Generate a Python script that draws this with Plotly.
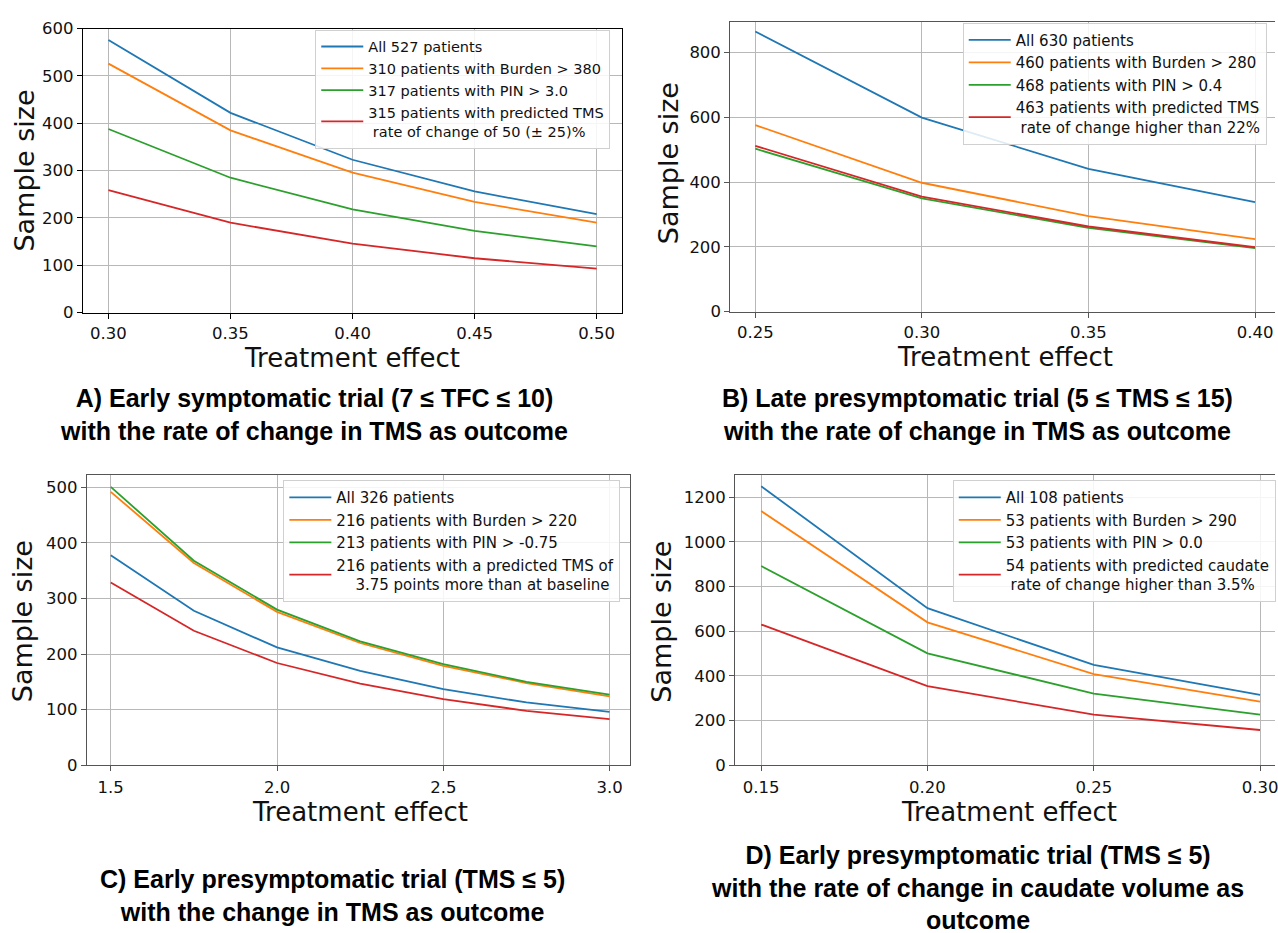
import plotly.graph_objects as go

# ---------------- data ----------------
effect_A = [0.30, 0.35, 0.40, 0.45, 0.50]
all_A = [576, 422, 323, 256, 208]
burden_A = [526, 385, 296, 234, 190]
pin_A = [388, 285, 218, 173, 140]
tms_A = [259, 190, 146, 115, 93]
names_A = ["All 527 patients", "310 patients with Burden > 380", "317 patients with PIN > 3.0",
           "315 patients with predicted TMS<br> rate of change of 50 (± 25)%"]

effect_B = [0.25, 0.30, 0.35, 0.40]
all_B = [865, 599, 441, 338]
burden_B = [576, 398, 295, 224]
pin_B = [503, 350, 259, 196]
tms_B = [512, 355, 263, 199]
names_B = ["All 630 patients", "460 patients with Burden > 280", "468 patients with PIN > 0.4",
           "463 patients with predicted TMS<br> rate of change higher than 22%"]

effect_C = [1.5, 1.75, 2.0, 2.25, 2.5, 2.75, 3.0]
all_C = [378, 278, 212, 170, 137, 113, 96]
burden_C = [492, 364, 276, 220, 179, 148, 124]
pin_C = [501, 368, 280, 223, 182, 150, 127]
tms_C = [329, 242, 184, 147, 119, 98, 83]
names_C = ["All 326 patients", "216 patients with Burden > 220", "213 patients with PIN > -0.75",
           "216 patients with a predicted TMS of<br>    3.75 points more than at baseline"]

effect_D = [0.15, 0.20, 0.25, 0.30]
all_D = [1249, 703, 449, 315]
burden_D = [1138, 640, 408, 285]
pin_D = [892, 501, 321, 227]
tms_D = [630, 354, 227, 158]
names_D = ["All 108 patients", "53 patients with Burden > 290", "53 patients with PIN > 0.0",
           "54 patients with predicted caudate<br> rate of change higher than 3.5%"]

x_ticks_A = [0.30, 0.35, 0.40, 0.45, 0.50]
x_ticks_B = [0.25, 0.30, 0.35, 0.40]
x_ticks_C = [1.5, 2.0, 2.5, 3.0]
x_ticks_D = [0.15, 0.20, 0.25, 0.30]

captions = [
    "A) Early symptomatic trial (7 ≤ TFC ≤ 10)<br>with the rate of change in TMS as outcome",
    "B) Late presymptomatic trial (5 ≤ TMS ≤ 15)<br>with the rate of change in TMS as outcome",
    "C) Early presymptomatic trial (TMS ≤ 5)<br>with the change in TMS as outcome",
    "D) Early presymptomatic trial (TMS ≤ 5)<br>with the rate of change in caudate volume as<br>outcome",
]

COLORS = ["#1f77b4", "#ff7f0e", "#2ca02c", "#d62728"]
W, H = 1278, 933

def px_x(p):
    return p / W

def px_y(p):
    return 1 - p / H

panels = [
    dict(ef=effect_A, ser=[all_A, burden_A, pin_A, tms_A], names=names_A, ticks=x_ticks_A,
         tickfmt=".2f", xr=[0.2895, 0.5102], yr=[0, 600], dtick=100, rspine=True,
         dom=(83, 623, 20, 310), leg=(316, 21), legfont=14.5, spine="#000", xstand=0,
         ytitle=(25, 165), xtitle=(353, 356)),
    dict(ef=effect_B, ser=[all_B, burden_B, pin_B, tms_B], names=names_B, ticks=x_ticks_B,
         tickfmt=".2f", xr=[0.2425, 0.406], yr=[0, 895], dtick=200, rspine=False,
         dom=(732, 1278, 13, 309), leg=(965, 14), legfont=15, spine="#555", xstand=0,
         ytitle=(670, 157), xtitle=(1007, 355)),
    dict(ef=effect_C, ser=[all_C, burden_C, pin_C, tms_C], names=names_C, ticks=x_ticks_C,
         tickfmt=".1f", xr=[1.428, 3.06], yr=[0, 521.7], dtick=100, rspine=True,
         dom=(87, 631, 476, 772), leg=(284, 481), legfont=15, spine="#555", xstand=2,
         ytitle=(22, 625), xtitle=(361, 820)),
    dict(ef=effect_D, ser=[all_D, burden_D, pin_D, tms_D], names=names_D, ticks=x_ticks_D,
         tickfmt=".2f", xr=[0.1422, 0.3045], yr=[0, 1298], dtick=200, rspine=False,
         dom=(737, 1278, 476, 772), leg=(955, 481), legfont=15, spine="#555", xstand=2,
         ytitle=(663, 625), xtitle=(1011, 820)),
]

fig = go.Figure()
annotations = []
layout = {}
for i, p in enumerate(panels):
    k = "" if i == 0 else str(i + 1)
    legname = "legend" + k
    for j, ys in enumerate(p["ser"]):
        fig.add_trace(go.Scatter(
            x=p["ef"], y=ys, mode="lines", name=p["names"][j],
            line=dict(color=COLORS[j], width=1.8),
            xaxis="x" + k, yaxis="y" + k, legend=legname,
        ))
    l, r, t, b = p["dom"]
    axcommon = dict(showline=True, linecolor=p["spine"], linewidth=1.2,
                    showgrid=True, gridcolor="#b8b8b8", gridwidth=1,
                    ticks="outside", ticklen=5, tickcolor=p["spine"], zeroline=False,
                    ticklabeloverflow="allow",
                    tickfont=dict(family="DejaVu Sans", size=16.5, color="#111"))
    layout["xaxis" + k] = dict(domain=[px_x(l), px_x(r)], range=p["xr"], anchor="y" + k,
                               tickvals=p["ticks"], tickformat=p["tickfmt"], mirror=True,
                               ticklabelstandoff=p["xstand"], **axcommon)
    layout["yaxis" + k] = dict(domain=[px_y(b), px_y(t)], range=p["yr"], anchor="x" + k,
                               dtick=p["dtick"], tick0=0, mirror=p["rspine"], **axcommon)
    lx, ly = p["leg"]
    layout[legname] = dict(x=px_x(lx), y=px_y(ly), xanchor="left", yanchor="top",
                           xref="paper", yref="paper",
                           bgcolor="rgba(255,255,255,0.85)", bordercolor="#d0d0d0", borderwidth=1,
                           font=dict(family="DejaVu Sans", size=p["legfont"], color="#111"),
                           itemwidth=42)
    tx, ty = p["ytitle"]
    annotations.append(dict(text="Sample size", x=px_x(tx), y=px_y(ty), xref="paper", yref="paper",
                            textangle=-90, showarrow=False, xanchor="center", yanchor="middle",
                            font=dict(family="DejaVu Sans", size=27, color="#111")))
    tx, ty = p["xtitle"]
    annotations.append(dict(text="Treatment effect", x=px_x(tx), y=px_y(ty), xref="paper", yref="paper",
                            showarrow=False, xanchor="center", yanchor="middle",
                            font=dict(family="DejaVu Sans", size=26, color="#111")))

cap_pos = [(315, 414), (980, 414), (333, 905), (980, 897)]
for cap, (cx, cy) in zip(captions, cap_pos):
    annotations.append(dict(text="<b>" + cap + "</b>", x=px_x(cx), y=px_y(cy), xref="paper", yref="paper",
                            showarrow=False, xanchor="center", yanchor="middle", align="center",
                            font=dict(family="Liberation Sans Narrow, Arial Narrow, Liberation Sans",
                                      size=25, color="#000")))

fig.update_layout(
    width=W, height=H, margin=dict(l=0, r=0, t=0, b=0),
    paper_bgcolor="white", plot_bgcolor="white",
    annotations=annotations, showlegend=True, **layout,
)
fig.write_html("out.html", config={"displayModeBar": False},
               post_script="document.body.style.margin='0';document.body.style.overflow='hidden';")
